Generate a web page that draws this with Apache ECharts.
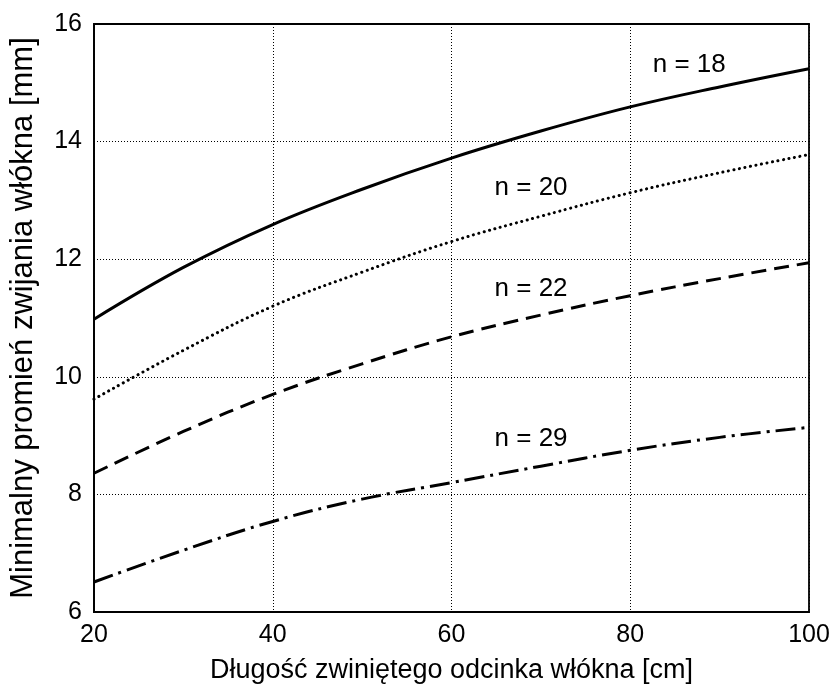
<!DOCTYPE html>
<html>
<head>
<meta charset="utf-8">
<script src="https://cdn.jsdelivr.net/npm/echarts@6/dist/echarts.min.js"></script>
<style>
  html, body { margin: 0; padding: 0; background: #fff; }
  #chart { width: 834px; height: 689px; }
</style>
</head>
<body>
<div id="chart"></div>
<script>
// Fibre length [cm]
const lengths = [20, 30, 40, 50, 60, 70, 80, 90, 100];
// Minimum bending radius [mm] for each number of turns n
const r18 = [10.98, 11.86, 12.59, 13.19, 13.72, 14.18, 14.59, 14.93, 15.24];
const r20 = [9.62, 10.45, 11.20, 11.78, 12.30, 12.73, 13.13, 13.47, 13.78];
const r22 = [8.36, 9.07, 9.70, 10.22, 10.68, 11.05, 11.38, 11.67, 11.94];
const r29 = [6.51, 7.05, 7.54, 7.92, 8.20, 8.48, 8.75, 8.97, 9.14];
const curveNames = ['n = 18', 'n = 20', 'n = 22', 'n = 29'];
const xTicks = [20, 40, 60, 80, 100];
const yTicks = [6, 8, 10, 12, 14, 16];

const FONT = '"Liberation Sans", Arial, Helvetica, sans-serif';

function pairs(ys) { return lengths.map((x, i) => [x, ys[i]]); }

function curve(name, ys, lineType, width, cap, labelAt) {
  return {
    name: name,
    type: 'line',
    data: pairs(ys),
    smooth: 0.4,
    showSymbol: false,
    silent: true,
    lineStyle: { color: '#000', width: width, type: lineType, cap: cap },
    markPoint: {
      symbol: 'circle',
      symbolSize: 0,
      silent: true,
      label: {
        show: true, position: 'inside', color: '#000',
        fontFamily: FONT, fontSize: 26, formatter: name
      },
      data: [{ coord: labelAt }]
    }
  };
}

const chart = echarts.init(document.getElementById('chart'));
chart.setOption({
  animation: false,
  backgroundColor: '#fff',
  grid: {
    left: 92, right: 25, top: 24, bottom: 76,
    show: true, borderColor: '#000', borderWidth: 1.8
  },
  xAxis: {
    type: 'value',
    min: xTicks[0], max: xTicks[xTicks.length - 1], interval: 20,
    name: 'Długość zwiniętego odcinka włókna [cm]',
    nameLocation: 'middle', nameGap: 45,
    nameTextStyle: { color: '#000', fontFamily: FONT, fontSize: 27 },
    axisLine: { show: true, lineStyle: { color: '#000', width: 1.8 } },
    axisTick: { show: false },
    axisLabel: { color: '#000', fontFamily: FONT, fontSize: 25, margin: 11 },
    splitLine: { show: true, lineStyle: { color: '#000', width: 1, type: [1, 2] } }
  },
  yAxis: {
    type: 'value',
    min: yTicks[0], max: yTicks[yTicks.length - 1], interval: 2,
    name: 'Minimalny promień zwijania włókna [mm]',
    nameLocation: 'middle', nameGap: 55,
    nameTextStyle: { color: '#000', fontFamily: FONT, fontSize: 31 },
    axisLine: { show: true, lineStyle: { color: '#000', width: 1.8 } },
    axisTick: { show: false },
    axisLabel: { color: '#000', fontFamily: FONT, fontSize: 25, margin: 12 },
    splitLine: { show: true, lineStyle: { color: '#000', width: 1, type: [1, 2] } }
  },
  series: [
    curve(curveNames[0], r18, 'solid', 3, 'butt', [86.6, 15.30]),
    curve(curveNames[1], r20, [0.1, 5.5], 3, 'round', [68.9, 13.22]),
    curve(curveNames[2], r22, [15, 8], 3, 'butt', [68.9, 11.50]),
    curve(curveNames[3], r29, [20, 6, 3, 6], 3, 'butt', [68.9, 8.94])
  ]
});
</script>
</body>
</html>
